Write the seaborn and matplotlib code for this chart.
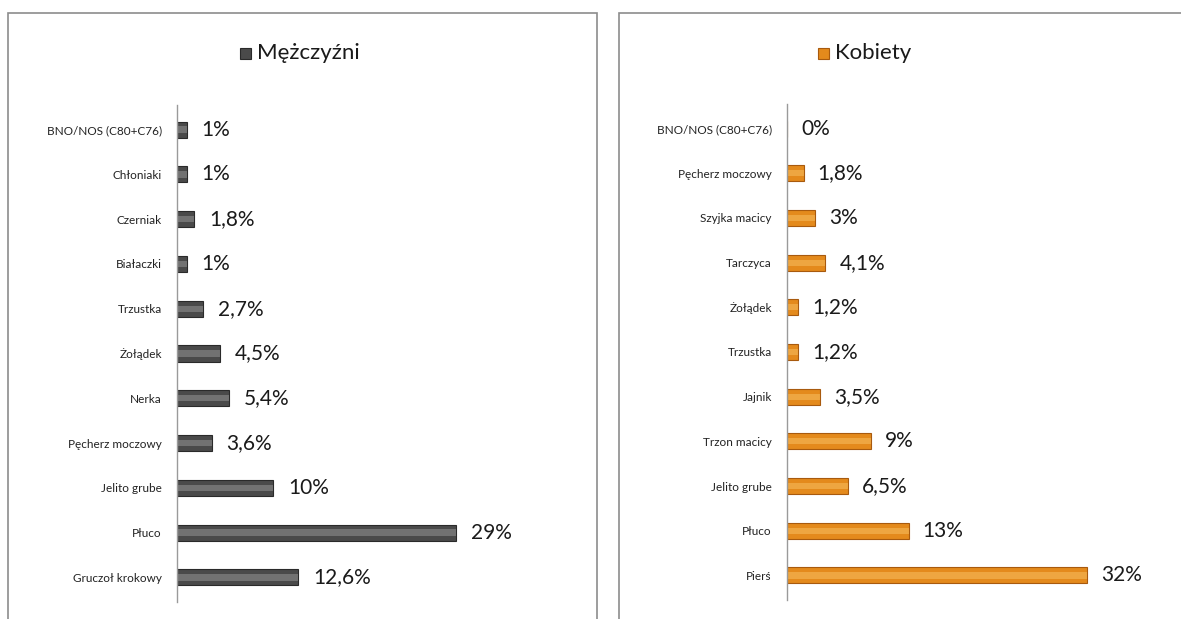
import numpy as np
import pandas as pd
import seaborn as sns
import matplotlib
matplotlib.use("Agg")
import matplotlib.pyplot as plt
from matplotlib.patches import Rectangle

# dane z wykresu
men_sites = ["BNO/NOS (C80+C76)", "Chłoniaki", "Czerniak", "Białaczki", "Trzustka",
             "Żołądek", "Nerka", "Pęcherz moczowy", "Jelito grube", "Płuco",
             "Gruczoł krokowy"]
men_pct = [1, 1, 1.8, 1, 2.7, 4.5, 5.4, 3.6, 10, 29, 12.6]

women_sites = ["BNO/NOS (C80+C76)", "Pęcherz moczowy", "Szyjka macicy", "Tarczyca",
               "Żołądek", "Trzustka", "Jajnik", "Trzon macicy", "Jelito grube",
               "Płuco", "Pierś"]
women_pct = [0, 1.8, 3, 4.1, 1.2, 1.2, 3.5, 9, 6.5, 13, 32]

sns.set_style("white")
plt.rcParams["font.family"] = ["Lato", "DejaVu Sans"]

W, H = 1181, 619
fig = plt.figure(figsize=(W / 100, H / 100), dpi=100)


def fx(px):
    return px / W


def fy(py):
    return 1 - py / H


def panel(ax, sites, pct, base, light, edge, xmax):
    df = pd.DataFrame({"site": sites, "pct": pct})
    sns.barplot(data=df, y="site", x="pct", ax=ax, color=base, width=0.36,
                edgecolor=edge, linewidth=0.8, saturation=1, orient="h")
    # highlight stripe to mimic the bevelled bars
    sns.barplot(data=df, y="site", x="pct", ax=ax, color=light, width=0.14,
                linewidth=0, saturation=1, orient="h", alpha=0.4)
    ax.set_xlim(0, xmax)
    ax.set_ylim(10.55, -0.55)
    ax.set_xlabel("")
    ax.set_ylabel("")
    ax.set_xticks([])
    for s in ["top", "right", "bottom"]:
        ax.spines[s].set_visible(False)
    ax.spines["left"].set_color("#9a9a9a")
    ax.spines["left"].set_linewidth(1)
    ax.tick_params(axis="y", length=0, pad=11, labelsize=8.5, labelcolor="#222222")
    for i, v in enumerate(pct):
        lab = f"{v:g}".replace(".", ",") + "%"
        ax.text(v + xmax * 0.037, i, lab, va="center", ha="left", fontsize=15,
                color="#1a1a1a")


ax1 = fig.add_axes([fx(177), fy(602), fx(400), fy(105) - fy(602)])
panel(ax1, men_sites, men_pct, "#4a4a4a", "#b0b0b0", "#2a2a2a", 41.6)
ax2 = fig.add_axes([fx(787), fy(600), fx(375), fy(104) - fy(600)])
panel(ax2, women_sites, women_pct, "#e48a1c", "#ffd27a", "#a85a0e", 40.0)

# ramki paneli
for x0, x1 in [(8, 597), (619, 1200)]:
    fig.patches.append(Rectangle((fx(x0), fy(640)), fx(x1 - x0), fy(13) - fy(640),
                                 transform=fig.transFigure, fill=False,
                                 edgecolor="#8c8c8c", linewidth=1.2))

# tytuły w stylu legendy
for cx, txt, col, ecol in [(302, "Mężczyźni", "#4a4a4a", "#2a2a2a"),
                           (880, "Kobiety", "#e48a1c", "#a85a0e")]:
    fig.patches.append(Rectangle((fx(cx - 62), fy(59)), fx(11), fy(48) - fy(59),
                                 transform=fig.transFigure, facecolor=col,
                                 edgecolor=ecol, linewidth=0.8))
    fig.text(fx(cx - 45), fy(53), txt, fontsize=16, va="center", ha="left",
             color="#1a1a1a")

fig.savefig("out.png", dpi=100)
